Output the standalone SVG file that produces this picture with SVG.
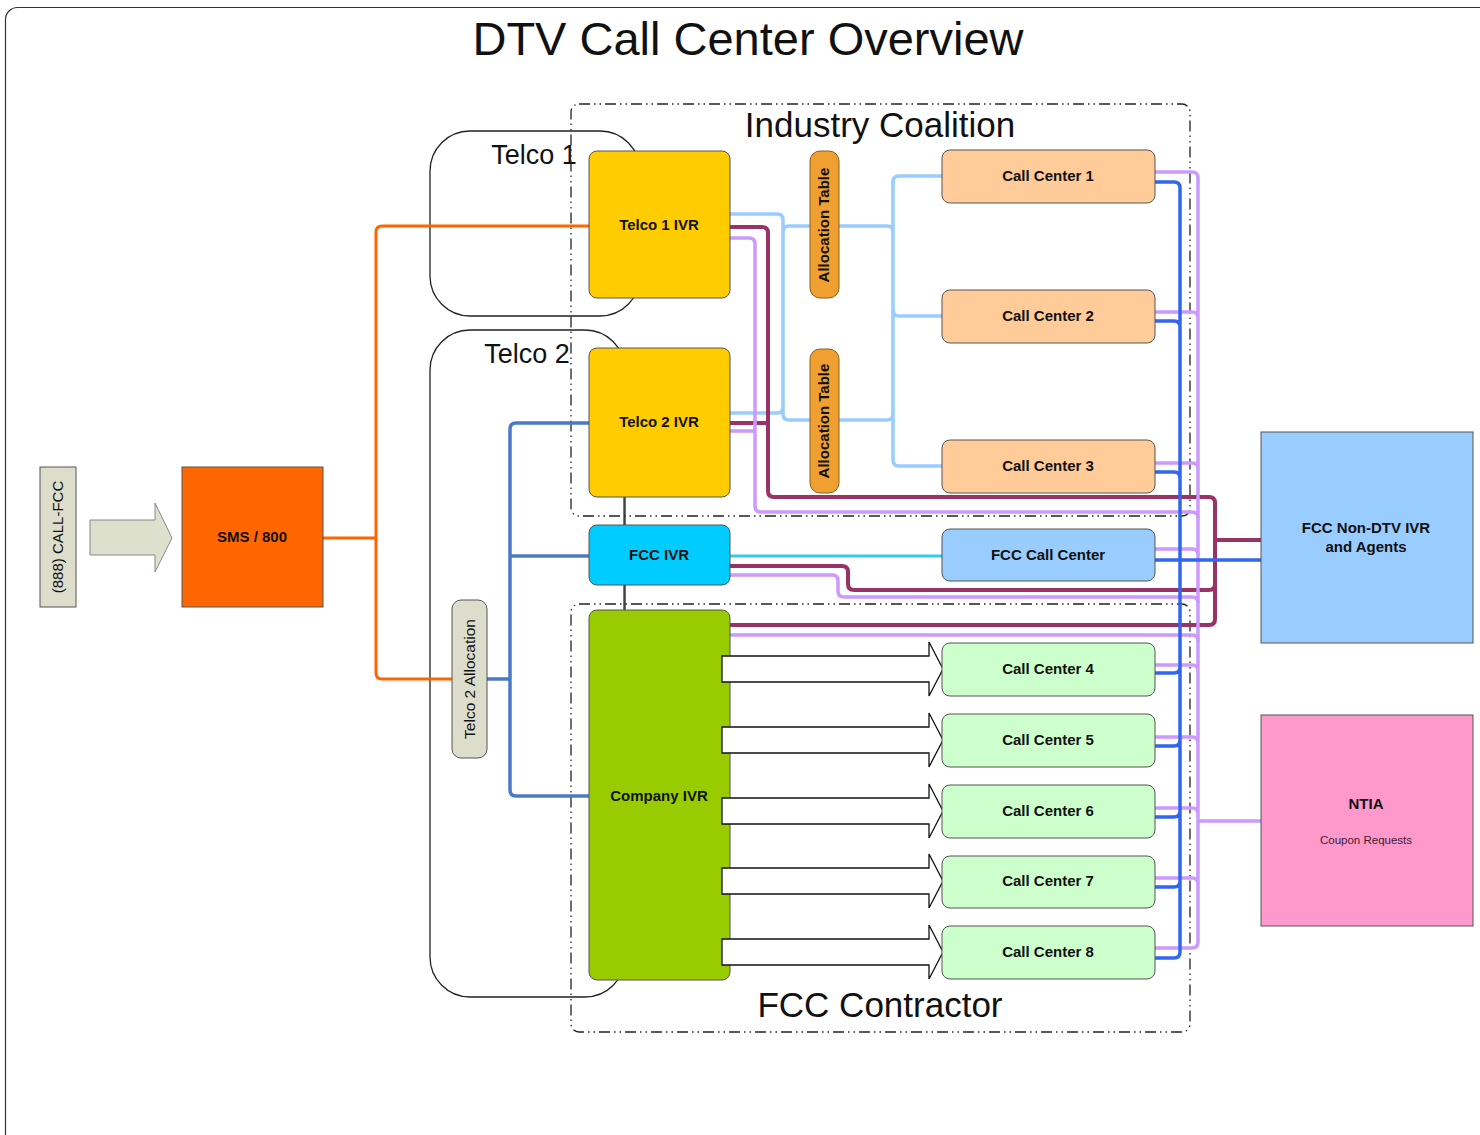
<svg xmlns="http://www.w3.org/2000/svg" width="1480" height="1135" viewBox="0 0 1480 1135">
<style>
text{font-family:"Liberation Sans",Arial,sans-serif;fill:#111}
.b{font-weight:bold;font-size:15px;text-anchor:middle}
.big{font-size:35px;text-anchor:middle}
.grp{fill:none;stroke:#222;stroke-width:1.3}
.dash{fill:none;stroke:#222;stroke-width:1.3;stroke-dasharray:11,4,1.5,4,1.5,4}
.n{stroke:#555;stroke-width:1}
.c{fill:none;stroke-linejoin:round;stroke-linecap:butt}
.or{stroke:#FF6600;stroke-width:3}
.sb{stroke:#4A7AC6;stroke-width:3.5}
.lb{stroke:#99CCFF;stroke-width:3.5}
.mr{stroke:#993366;stroke-width:4}
.lv{stroke:#CC99FF;stroke-width:3.5}
.bl{stroke:#3366EE;stroke-width:3.5}
.cy{stroke:#33CCEE;stroke-width:3}
.blk{fill:#fff;stroke:#111;stroke-width:1.3}
</style>
<defs>
<path id="barrow" d="M722,-13 H929 V-27 L943,0 L929,27 V13 H722 Z"/>
</defs>
<rect x="5.5" y="7.5" width="1500" height="1150" rx="12" fill="#fff" stroke="#333" stroke-width="1.2"/>
<text x="748" y="55" font-size="47" text-anchor="middle">DTV Call Center Overview</text>

<g id="telco1-group"><rect class="grp" x="430" y="131" width="210" height="185" rx="40"/><text x="534" y="164" font-size="27" text-anchor="middle">Telco 1</text></g>
<g id="telco2-group"><rect class="grp" x="430" y="330" width="195" height="667" rx="40"/><text x="527" y="363" font-size="27" text-anchor="middle">Telco 2</text></g>
<g id="industry-coalition"><rect class="dash" x="571" y="104" width="619" height="412" rx="8"/><text class="big" x="880" y="137">Industry Coalition</text></g>
<g id="fcc-contractor"><rect class="dash" x="571" y="604" width="619" height="428" rx="8"/><text class="big" x="880" y="1017">FCC Contractor</text></g>

<g id="connectors">
<line x1="624" y1="497" x2="624" y2="611" stroke="#222" stroke-width="1.2"/>
<path class="c or" d="M323,538 H376 M589,226 H382 Q376,226 376,232 V673 Q376,679 382,679 H452"/>
<path class="c sb" d="M487,679 H510 M589,423 H516 Q510,423 510,429 V790 Q510,796 516,796 H589 M510,556 H589"/>
<path class="c lb" d="M730,214 H777 Q783,214 783,220 V414 Q783,420 789,420 H810 M730,413 H777 Q783,413 783,407 V232 Q783,226 789,226 H810"/>
<path class="c lb" d="M942,176 H899 Q893,176 893,182 V310 Q893,316 899,316 H942 M839,226 H887 Q893,226 893,232 M839,420 H887 Q893,420 893,414 M893,300 V460 Q893,466 899,466 H942"/>
<path class="c cy" d="M730,556 H942"/>
<path class="c mr" d="M730,227 H762 Q768,227 768,233 V491 Q768,497 774,497 H1209 Q1215,497 1215,503 V619 Q1215,625 1209,625 H730 M730,423 H768 M730,566 H842 Q848,566 848,572 V584 Q848,590 854,590 H1209 Q1215,590 1215,584 M1215,540 H1261"/>
<path class="c lv" d="M730,238 H749 Q755,238 755,244 V506 Q755,512 761,512 H1192 Q1198,512 1198,518 M730,431 H755 M730,575 H832 Q838,575 838,581 V591 Q838,597 844,597 H1192 Q1198,597 1198,603 M1155,549 H1192 Q1198,549 1198,555 M730,635 H1192 Q1198,635 1198,641 M1198,821 H1261"/>
<path class="c lv" d="M1155,172 H1192 Q1198,172 1198,178 V942 Q1198,948 1192,948 H1155 M1155,312 H1192 Q1198,312 1198,318 M1155,463 H1192 Q1198,463 1198,469 M1155,665 H1192 Q1198,665 1198,671 M1155,737 H1192 Q1198,737 1198,743 M1155,808 H1192 Q1198,808 1198,814 M1155,878 H1192 Q1198,878 1198,884"/>
<path class="c bl" d="M1155,182 H1174 Q1180,182 1180,188 V952 Q1180,958 1174,958 H1155 M1155,321 H1174 Q1180,321 1180,327 M1155,472 H1174 Q1180,472 1180,478 M1155,560 H1261 M1155,673 H1174 Q1180,673 1180,667 M1155,746 H1174 Q1180,746 1180,740 M1155,817 H1174 Q1180,817 1180,811 M1155,887 H1174 Q1180,887 1180,881"/>
</g>

<g id="call-fcc"><rect class="n" x="40" y="467" width="36" height="140" fill="#DDDDCC"/><text x="63" y="537" font-size="15" text-anchor="middle" transform="rotate(-90 63 537)">(888) CALL-FCC</text></g>
<g id="call-arrow"><path d="M90,520 H155 V503 L172,538 L155,572 V555 H90 Z" fill="#DDE0CC" stroke="#888" stroke-width="1"/></g>
<g id="sms800"><rect class="n" x="182" y="467" width="141" height="140" fill="#FF6600"/><text class="b" x="252" y="542">SMS / 800</text></g>
<g id="telco2-allocation"><rect class="n" x="452" y="600" width="35" height="158" rx="9" fill="#DDDDCC"/><text x="475" y="679" font-size="15.5" text-anchor="middle" transform="rotate(-90 475 679)">Telco 2 Allocation</text></g>

<g id="telco1-ivr"><rect class="n" x="589" y="151" width="141" height="147" rx="8" fill="#FFCC00"/><text class="b" x="659" y="230">Telco 1 IVR</text></g>
<g id="telco2-ivr"><rect class="n" x="589" y="348" width="141" height="149" rx="8" fill="#FFCC00"/><text class="b" x="659" y="427">Telco 2 IVR</text></g>
<g id="fcc-ivr"><rect class="n" x="589" y="525" width="141" height="60" rx="8" fill="#00CCFF"/><text class="b" x="659" y="560">FCC IVR</text></g>
<g id="company-ivr"><rect class="n" x="589" y="610" width="141" height="370" rx="8" fill="#99CC00"/><text class="b" x="659" y="801">Company IVR</text></g>

<g id="alloc-table-1"><rect x="810" y="151" width="29" height="147" rx="10" fill="#F0A030" stroke="#8A6020" stroke-width="1"/><text class="b" x="829" y="225" transform="rotate(-90 829 225)">Allocation Table</text></g>
<g id="alloc-table-2"><rect x="810" y="349" width="29" height="144" rx="10" fill="#F0A030" stroke="#8A6020" stroke-width="1"/><text class="b" x="829" y="421" transform="rotate(-90 829 421)">Allocation Table</text></g>

<g id="arrows-to-cc">
<use href="#barrow" class="blk" transform="translate(0,669)"/>
<use href="#barrow" class="blk" transform="translate(0,740)"/>
<use href="#barrow" class="blk" transform="translate(0,811)"/>
<use href="#barrow" class="blk" transform="translate(0,881)"/>
<use href="#barrow" class="blk" transform="translate(0,952)"/>
</g>

<g id="call-center-1"><rect class="n" x="942" y="150" width="213" height="53" rx="8" fill="#FFCC99"/><text class="b" x="1048" y="181">Call Center 1</text></g>
<g id="call-center-2"><rect class="n" x="942" y="290" width="213" height="53" rx="8" fill="#FFCC99"/><text class="b" x="1048" y="321">Call Center 2</text></g>
<g id="call-center-3"><rect class="n" x="942" y="440" width="213" height="53" rx="8" fill="#FFCC99"/><text class="b" x="1048" y="471">Call Center 3</text></g>
<g id="fcc-call-center"><rect class="n" x="942" y="529" width="213" height="52" rx="8" fill="#99CCFF"/><text class="b" x="1048" y="560">FCC Call Center</text></g>
<g id="call-center-4"><rect class="n" x="942" y="643" width="213" height="53" rx="8" fill="#CCFFCC"/><text class="b" x="1048" y="674">Call Center 4</text></g>
<g id="call-center-5"><rect class="n" x="942" y="714" width="213" height="53" rx="8" fill="#CCFFCC"/><text class="b" x="1048" y="745">Call Center 5</text></g>
<g id="call-center-6"><rect class="n" x="942" y="785" width="213" height="53" rx="8" fill="#CCFFCC"/><text class="b" x="1048" y="816">Call Center 6</text></g>
<g id="call-center-7"><rect class="n" x="942" y="856" width="213" height="52" rx="8" fill="#CCFFCC"/><text class="b" x="1048" y="886">Call Center 7</text></g>
<g id="call-center-8"><rect class="n" x="942" y="926" width="213" height="53" rx="8" fill="#CCFFCC"/><text class="b" x="1048" y="957">Call Center 8</text></g>

<g id="fcc-non-dtv"><rect class="n" x="1261" y="432" width="212" height="211" fill="#99CCFF"/><text class="b" x="1366" y="533">FCC Non-DTV IVR</text><text class="b" x="1366" y="552">and Agents</text></g>
<g id="ntia"><rect class="n" x="1261" y="715" width="212" height="211" fill="#FF99CC"/><text class="b" x="1366" y="809" font-size="16">NTIA</text><text x="1366" y="844" font-size="11.5" text-anchor="middle" style="fill:#402030">Coupon Requests</text></g>
</svg>
